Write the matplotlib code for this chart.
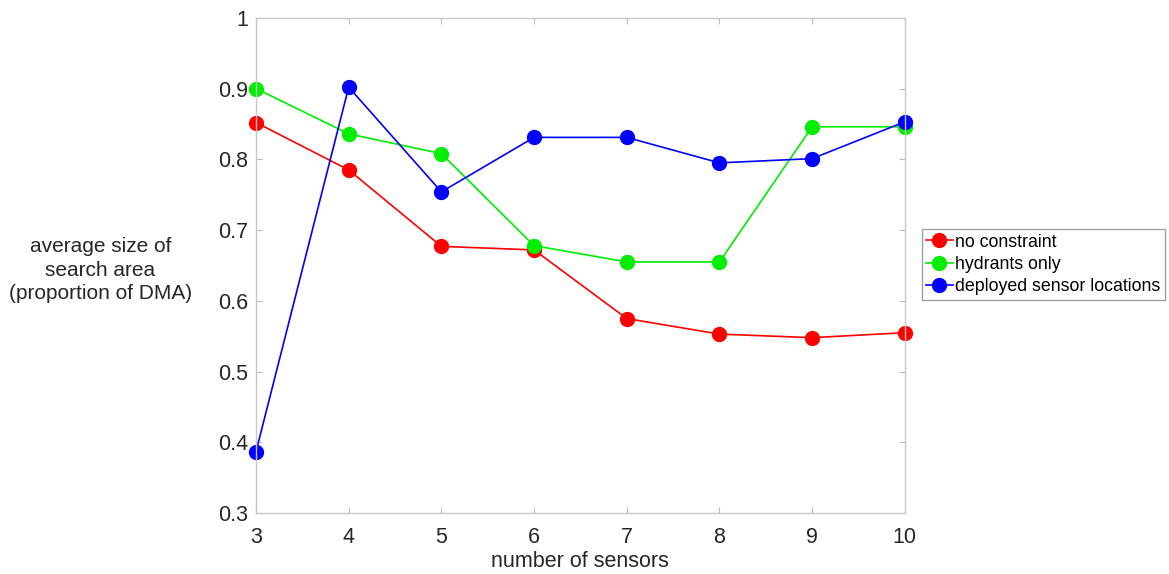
import matplotlib.pyplot as plt

plt.rcParams['font.family'] = ['Liberation Sans', 'DejaVu Sans']

# Data
sensors = [3, 4, 5, 6, 7, 8, 9, 10]
no_constraint = [0.852, 0.785, 0.677, 0.672, 0.575, 0.553, 0.548, 0.555]
hydrants_only = [0.900, 0.836, 0.808, 0.678, 0.655, 0.655, 0.846, 0.846]
deployed = [0.387, 0.902, 0.754, 0.831, 0.831, 0.795, 0.801, 0.853]

series = [
    ("no constraint", no_constraint, "#ff0000"),
    ("hydrants only", hydrants_only, "#00ee00"),
    ("deployed sensor locations", deployed, "#0000ff"),
]

fig = plt.figure(figsize=(11.69, 5.74), dpi=100)
ax = fig.add_axes([0.219, 0.106, 0.555, 0.863])

for name, vals, col in series:
    ax.plot(sensors, vals, color=col, linewidth=1.2, marker='o',
            markersize=10, label=name, clip_on=False)

ax.set_xlim(3, 10)
ax.set_ylim(0.3, 1.0)
ax.set_xticks(sensors)
ax.set_yticks([0.3, 0.4, 0.5, 0.6, 0.7, 0.8, 0.9, 1.0])
ax.set_yticklabels(["0.3", "0.4", "0.5", "0.6", "0.7", "0.8", "0.9", "1"])
ax.tick_params(direction='in', length=4, color='#bbbbbb', labelsize=15.5,
               labelcolor='#262626', top=True, right=True)
ax.tick_params(axis='x', pad=10)
ax.tick_params(axis='y', pad=5.5)
for sp in ax.spines.values():
    sp.set_color('#c8c8c8')
    sp.set_linewidth(1.0)

ax.set_xlabel("number of sensors", fontsize=15.5, color='#262626', labelpad=2)
ax.set_ylabel("average size of\nsearch area\n(proportion of DMA)", fontsize=15,
              color='#262626', rotation=0, ha='center', va='center',
              linespacing=1.3)
ax.yaxis.set_label_coords(-0.24, 0.49)

leg = ax.legend(loc='center left', bbox_to_anchor=(1.026, 0.502), fontsize=12.8,
                frameon=True, fancybox=False, borderpad=0.25, handlelength=1.5,
                handletextpad=0.15, labelspacing=0.3, borderaxespad=0)
leg.get_frame().set_edgecolor('#888888')
leg.get_frame().set_linewidth(1.0)

fig.savefig("out.png", dpi=100)
